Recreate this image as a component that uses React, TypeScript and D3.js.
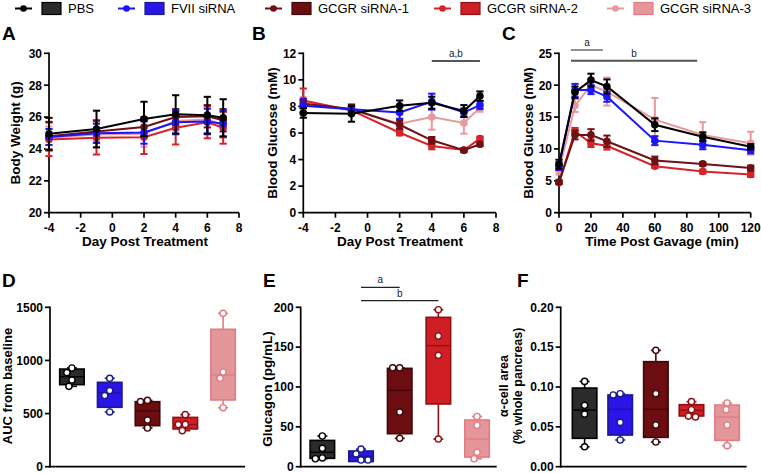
import React from 'react';
import * as d3 from 'd3';

const FONT = '"Liberation Sans", Arial, Helvetica, sans-serif';

// ---------- groups ----------
const groups = ['PBS', 'FVII siRNA', 'GCGR siRNA-1', 'GCGR siRNA-2', 'GCGR siRNA-3'];
const lineColors = ['#000000', '#1a14ff', '#6e1014', '#d6232a', '#e8999d'];
const boxFills = ['#2b2b2b', '#2a14e8', '#6c0e11', '#cf1e24', '#e3979a'];
const boxStrokes = ['#000000', '#191a8c', '#3e0708', '#8e1014', '#e27c82'];

// ---------- A: body weight ----------
const daysA = [-4, -1, 2, 4, 6, 7];
const weightMean = [
  [24.95, 25.25, 25.88, 26.17, 26.12, 25.95],
  [24.75, 24.98, 25.03, 25.67, 25.72, 25.58],
  [24.8, 25.1, 25.38, 26.0, 26.05, 25.8],
  [24.6, 24.7, 24.73, 25.33, 25.67, 25.33],
  [24.7, 24.9, 24.95, 25.75, 25.85, 25.5],
];
const weightSd = [
  [1.0, 1.15, 1.08, 1.2, 1.15, 1.17],
  [0.5, 0.6, 0.7, 0.75, 0.8, 0.8],
  [0.9, 0.7, 0.6, 0.5, 0.7, 0.7],
  [1.05, 1.05, 1.05, 1.05, 1.0, 1.0],
  [0.7, 0.8, 0.8, 0.6, 0.9, 0.8],
];

// ---------- B: blood glucose ----------
const glucoseMean = [
  [7.5, 7.45, 8.05, 8.28, 7.65, 8.78],
  [8.05, 7.78, 7.55, 8.36, 7.55, 8.1],
  [8.2, 7.8, 6.62, 5.45, 4.7, 5.15],
  [8.45, 7.7, 6.02, 5.02, 4.72, 5.58],
  [8.3, 7.75, 6.7, 7.2, 6.75, 7.9],
];
const glucoseSd = [
  [0.35, 0.6, 0.4, 0.45, 0.45, 0.35],
  [0.5, 0.2, 0.5, 0.6, 0.3, 0.3],
  [0.3, 0.35, 0.3, 0.25, 0.15, 0.15],
  [0.9, 0.3, 0.2, 0.25, 0.1, 0.15],
  [0.4, 0.3, 0.4, 0.95, 0.8, 0.3],
];

// ---------- C: OGTT ----------
const timesC = [0, 10, 20, 30, 60, 90, 120];
const ogttMean = [
  [7.6, 18.9, 20.8, 19.8, 13.8, 11.9, 10.35],
  [7.3, 19.2, 19.3, 18.2, 11.3, 10.65, 9.8],
  [4.8, 12.2, 12.2, 11.2, 8.2, 7.65, 7.0],
  [4.7, 12.8, 10.9, 10.5, 7.3, 6.45, 6.0],
  [6.6, 16.8, 20.0, 19.0, 14.6, 12.2, 10.9],
];
const ogttSd = [
  [0.7, 0.9, 1.0, 1.1, 1.0, 0.7, 0.4],
  [0.6, 1.0, 0.7, 0.8, 0.7, 0.7, 0.5],
  [0.3, 0.7, 0.9, 0.9, 0.6, 0.3, 0.4],
  [0.2, 0.5, 0.6, 0.6, 0.3, 0.3, 0.4],
  [0.6, 1.0, 1.0, 2.2, 3.4, 2.0, 1.8],
];

// ---------- D: AUC ----------
const aucPoints = [
  [929, 885, 815, 756],
  [832, 716, 669, 515],
  [624, 612, 439, 364],
  [490, 398, 396, 339],
  [1443, 891, 832, 555],
];
const aucQ1 = [772, 559, 386, 355, 628];
const aucMedian = [847, 694, 524, 397, 863];
const aucQ3 = [919, 794, 612, 464, 1293];

// ---------- E: glucagon ----------
const glucagonPoints = [
  [38.5, 23, 11, 10],
  [22, 16, 8.4, 8.4],
  [124, 124, 68.6, 35.6],
  [197, 164, 139.7, 34.7],
  [63, 52, 18, 10],
];
const glucagonQ1 = [10.5, 6.5, 41.4, 78.7, 12.1];
const glucagonMedian = [18, 13, 95.8, 151.9, 34.7];
const glucagonQ3 = [33, 19.7, 123.4, 187.4, 58.6];

// ---------- F: alpha-cell area ----------
const alphaPoints = [
  [0.107, 0.077, 0.066, 0.025],
  [0.0916, 0.09, 0.0556, 0.0335],
  [0.146, 0.0916, 0.0523, 0.031],
  [0.0816, 0.0715, 0.0635, 0.0625],
  [0.08, 0.0715, 0.0523, 0.0264],
];
const alphaQ1 = [0.0356, 0.0397, 0.0368, 0.0636, 0.033];
const alphaMedian = [0.0711, 0.072, 0.072, 0.0707, 0.0623];
const alphaQ3 = [0.0987, 0.09, 0.1318, 0.0778, 0.0774];

// ---------- ticks ----------
const ticksAx = [-4, -2, 0, 2, 4, 6, 8];
const ticksAy = [20, 22, 24, 26, 28, 30];
const ticksBy = [0, 2, 4, 6, 8, 10, 12];
const ticksCx = [0, 20, 40, 60, 80, 100, 120];
const ticksCy = [0, 5, 10, 15, 20, 25];
const ticksD = [0, 500, 1000, 1500];
const ticksE = [0, 50, 100, 150, 200];
const ticksF = [0, 0.05, 0.1, 0.15, 0.2];

const fmtInt = (v: number) => (v < 0 ? '-' + Math.abs(v) : String(v));

const LINE_TOP = 53.3;
const LINE_BOT = 212.7;
const BOX_TOP = 307.3;
const BOX_BOT = 466.7;
const AXIS_W = 1.7;

type Sig = { from: number; to: number; y: number; label: string; color: string; width: number };

function YAxis({ x0, y, ticks, fmt, size = 12 }: any) {
  return (
    <g>
      {ticks.map((t: number) => (
        <g key={t}>
          <line x1={x0 - 5} x2={x0} y1={y(t)} y2={y(t)} stroke="#000" strokeWidth={AXIS_W} />
          <text x={x0 - 7} y={y(t)} dy="0.36em" textAnchor="end" fontSize={size} fontWeight="bold" fontFamily={FONT}>
            {fmt(t)}
          </text>
        </g>
      ))}
      <line x1={x0} x2={x0} y1={y.range()[1] - 0.8} y2={y.range()[0] + 0.8} stroke="#000" strokeWidth={AXIS_W} />
    </g>
  );
}

function LinePanel(p: any) {
  const x = d3.scaleLinear().domain(p.xDomain).range([p.x0, p.x1]);
  const y = d3.scaleLinear().domain(p.yDomain).range([LINE_BOT, LINE_TOP]);
  const line = d3
    .line<number>()
    .x((_, i) => x(p.xs[i]))
    .y((d) => y(d));
  const order = [4, 3, 2, 1, 0];
  const cap = 3.6;
  return (
    <g>
      <text x={p.letterX} y={40} fontSize={19} fontWeight="bold" fontFamily={FONT}>
        {p.letter}
      </text>
      <line x1={p.x0 - 0.8} x2={p.x1} y1={LINE_BOT} y2={LINE_BOT} stroke="#000" strokeWidth={AXIS_W} />
      {p.xTicks.map((t: number) => (
        <g key={t}>
          <line x1={x(t)} x2={x(t)} y1={LINE_BOT} y2={LINE_BOT + 5} stroke="#000" strokeWidth={AXIS_W} />
          <text x={x(t)} y={LINE_BOT + 19} textAnchor="middle" fontSize={12} fontWeight="bold" fontFamily={FONT}>
            {fmtInt(t)}
          </text>
        </g>
      ))}
      <YAxis x0={p.x0} y={y} ticks={p.yTicks} fmt={fmtInt} />
      <text x={p.xTitleX} y={246} textAnchor="middle" fontSize={13.5} fontWeight="bold" fontFamily={FONT}>
        {p.xTitle}
      </text>
      <text
        transform={`translate(${p.yTitleX},${(LINE_TOP + LINE_BOT) / 2}) rotate(-90)`}
        textAnchor="middle"
        fontSize={13.5}
        fontWeight="bold"
        fontFamily={FONT}
      >
        {p.yTitle}
      </text>
      {p.sigs.map((s: Sig, i: number) => (
        <g key={i}>
          <line x1={x(s.from)} x2={x(s.to)} y1={s.y} y2={s.y} stroke={s.color} strokeWidth={s.width} />
          <text x={(x(s.from) + x(s.to)) / 2} y={s.y - 4} textAnchor="middle" fontSize={10} fontFamily={FONT} fill="#222">
            {s.label}
          </text>
        </g>
      ))}
      {order.map((g) => (
        <g key={g}>
          <path d={line(p.means[g]) || ''} fill="none" stroke={lineColors[g]} strokeWidth={2} />
          {p.means[g].map((m: number, i: number) => {
            const cx = x(p.xs[i]);
            const sd = p.sds[g][i];
            const yt = y(m + sd);
            const yb = y(m - sd);
            return (
              <g key={i}>
                <line x1={cx} x2={cx} y1={yt} y2={yb} stroke={lineColors[g]} strokeWidth={2} />
                <line x1={cx - cap} x2={cx + cap} y1={yt} y2={yt} stroke={lineColors[g]} strokeWidth={2} />
                <line x1={cx - cap} x2={cx + cap} y1={yb} y2={yb} stroke={lineColors[g]} strokeWidth={2} />
                <circle cx={cx} cy={y(m)} r={3.8} fill={lineColors[g]} />
              </g>
            );
          })}
        </g>
      ))}
    </g>
  );
}

function swarm(ys: number[], r: number): number[] {
  const idx = ys.map((_, i) => i).sort((a, b) => ys[a] - ys[b]);
  const offs = new Array(ys.length).fill(0);
  const placed: number[] = [];
  const cands = [0, -1, 1, -2, 2, -3, 3, -4, 4, -5, 5, -6, 6, -7, 7, -8, 8, -9, 9, -10, 10];
  for (const i of idx) {
    for (const c of cands) {
      const ok = placed.every((j) => Math.hypot(offs[j] - c, ys[j] - ys[i]) >= 2 * r + 0.6);
      if (ok) {
        offs[i] = c;
        break;
      }
    }
    placed.push(i);
  }
  return offs;
}

function BoxPanel(p: any) {
  const y = d3.scaleLinear().domain(p.yDomain).range([BOX_BOT, BOX_TOP]);
  const x = d3.scalePoint<number>().domain([0, 1, 2, 3, 4]).range(p.xRange).padding(p.padding);
  const bw = 24.5;
  const capW = 5;
  const r = 3.1;
  return (
    <g>
      <text x={p.letterX} y={286.7} fontSize={19} fontWeight="bold" fontFamily={FONT}>
        {p.letter}
      </text>
      <line x1={p.x0 - 0.8} x2={p.x1} y1={BOX_BOT} y2={BOX_BOT} stroke="#000" strokeWidth={AXIS_W} />
      <YAxis x0={p.x0} y={y} ticks={p.yTicks} fmt={p.fmt} />
      {p.yTitles.map((t: string, i: number) => (
        <text
          key={i}
          transform={`translate(${p.yTitleX[i]},${p.yTitleY}) rotate(-90)`}
          textAnchor="middle"
          fontSize={p.titleSize}
          fontWeight="bold"
          fontFamily={FONT}
        >
          {t}
        </text>
      ))}
      {(p.sigs || []).map((s: Sig, i: number) => (
        <g key={i}>
          <line x1={x(s.from)} x2={x(s.to)} y1={s.y} y2={s.y} stroke={s.color} strokeWidth={s.width} />
          <text x={(x(s.from)! + x(s.to)!) / 2} y={s.y - 4} textAnchor="middle" fontSize={10} fontFamily={FONT} fill="#222">
            {s.label}
          </text>
        </g>
      ))}
      {groups.map((_, g) => {
        const cx = x(g)!;
        const pts: number[] = p.points[g];
        const [mn, mx] = d3.extent(pts) as [number, number];
        const q1 = y(p.q1[g]);
        const q3 = y(p.q3[g]);
        const md = y(p.med[g]);
        const pys = pts.map((v) => y(v));
        const offs = swarm(pys, r);
        return (
          <g key={g}>
            <line x1={cx} x2={cx} y1={y(mx)} y2={q3} stroke={boxStrokes[g]} strokeWidth={1.6} />
            <line x1={cx} x2={cx} y1={q1} y2={y(mn)} stroke={boxStrokes[g]} strokeWidth={1.6} />
            <line x1={cx - capW} x2={cx + capW} y1={y(mx)} y2={y(mx)} stroke={boxStrokes[g]} strokeWidth={1.6} />
            <line x1={cx - capW} x2={cx + capW} y1={y(mn)} y2={y(mn)} stroke={boxStrokes[g]} strokeWidth={1.6} />
            <rect x={cx - bw / 2} y={q3} width={bw} height={q1 - q3} fill={boxFills[g]} stroke={boxStrokes[g]} strokeWidth={1.6} />
            <line x1={cx - bw / 2} x2={cx + bw / 2} y1={md} y2={md} stroke={boxStrokes[g]} strokeWidth={1.4} />
            {pys.map((py, i) => (
              <circle key={i} cx={cx + offs[i]} cy={py} r={r} fill="#fff" stroke={boxStrokes[g]} strokeWidth={1.4} />
            ))}
          </g>
        );
      })}
    </g>
  );
}

const legendX = [15, 118, 265, 434, 607];

function Legend() {
  const yc = 8.5;
  return (
    <g>
      {groups.map((name, g) => {
        const x0 = legendX[g];
        return (
          <g key={g}>
            <line x1={x0} x2={x0 + 17} y1={yc} y2={yc} stroke={lineColors[g]} strokeWidth={2} />
            <circle cx={x0 + 8.5} cy={yc} r={3.3} fill={lineColors[g]} />
            <rect x={x0 + 27} y={yc - 6} width={19} height={12} fill={boxFills[g]} stroke={boxStrokes[g]} strokeWidth={1.2} />
            <text x={x0 + 53} y={yc} dy="0.36em" fontSize={13} fontFamily={FONT} fill="#000">
              {name}
            </text>
          </g>
        );
      })}
    </g>
  );
}

export default function App() {
  return (
    <svg width={761} height={473} style={{ position: 'absolute', left: 0, top: 0, background: '#fff' }}>
      <rect x={0} y={0} width={761} height={473} fill="#fff" />
      <Legend />
      <LinePanel
        letter="A"
        letterX={2}
        x0={49}
        x1={239}
        xDomain={[-4, 8]}
        yDomain={[20, 30]}
        xTicks={ticksAx}
        yTicks={ticksAy}
        xs={daysA}
        means={weightMean}
        sds={weightSd}
        xTitle="Day Post Treatment"
        xTitleX={145}
        yTitle="Body Weight (g)"
        yTitleX={20}
        sigs={[]}
      />
      <LinePanel
        letter="B"
        letterX={252}
        x0={303.3}
        x1={496}
        xDomain={[-4, 8]}
        yDomain={[0, 12]}
        xTicks={ticksAx}
        yTicks={ticksBy}
        xs={daysA}
        means={glucoseMean}
        sds={glucoseSd}
        xTitle="Day Post Treatment"
        xTitleX={400}
        yTitle="Blood Glucose (mM)"
        yTitleX={277}
        sigs={[{ from: 4, to: 7, y: 61, label: 'a,b', color: '#555', width: 2 }]}
      />
      <LinePanel
        letter="C"
        letterX={502}
        x0={559}
        x1={750.7}
        xDomain={[0, 120]}
        yDomain={[0, 25]}
        xTicks={ticksCx}
        yTicks={ticksCy}
        xs={timesC}
        means={ogttMean}
        sds={ogttSd}
        xTitle="Time Post Gavage (min)"
        xTitleX={662}
        yTitle="Blood Glucose (mM)"
        yTitleX={533}
        sigs={[
          { from: 7.5, to: 27.5, y: 50, label: 'a', color: '#222', width: 1.2 },
          { from: 7.5, to: 86.5, y: 60.7, label: 'b', color: '#555', width: 2 },
        ]}
      />
      <BoxPanel
        letter="D"
        letterX={2}
        x0={50}
        x1={245}
        xRange={[50, 245]}
        padding={0.58}
        yDomain={[0, 1500]}
        yTicks={ticksD}
        fmt={(v: number) => String(v)}
        points={aucPoints}
        q1={aucQ1}
        med={aucMedian}
        q3={aucQ3}
        yTitles={['AUC from baseline']}
        yTitleX={[12]}
        yTitleY={386}
        titleSize={13}
      />
      <BoxPanel
        letter="E"
        letterX={263}
        x0={300.7}
        x1={496.7}
        xRange={[300.7, 498.7]}
        padding={0.56}
        yDomain={[0, 200]}
        yTicks={ticksE}
        fmt={(v: number) => String(v)}
        points={glucagonPoints}
        q1={glucagonQ1}
        med={glucagonMedian}
        q3={glucagonQ3}
        yTitles={['Glucagon (pg/mL)']}
        yTitleX={[272]}
        yTitleY={389}
        titleSize={13.5}
        sigs={[
          { from: 1, to: 2, y: 287.3, label: 'a', color: '#222', width: 1.2 },
          { from: 1, to: 3, y: 300.7, label: 'b', color: '#222', width: 1.2 },
        ]}
      />
      <BoxPanel
        letter="F"
        letterX={517}
        x0={560.7}
        x1={746.7}
        xRange={[565, 746.7]}
        padding={0.55}
        yDomain={[0, 0.2]}
        yTicks={ticksF}
        fmt={d3.format('.2f')}
        points={alphaPoints}
        q1={alphaQ1}
        med={alphaMedian}
        q3={alphaQ3}
        yTitles={['α-cell area', '(% whole pancreas)']}
        yTitleX={[508, 521.5]}
        yTitleY={386}
        titleSize={12.5}
      />
    </svg>
  );
}
